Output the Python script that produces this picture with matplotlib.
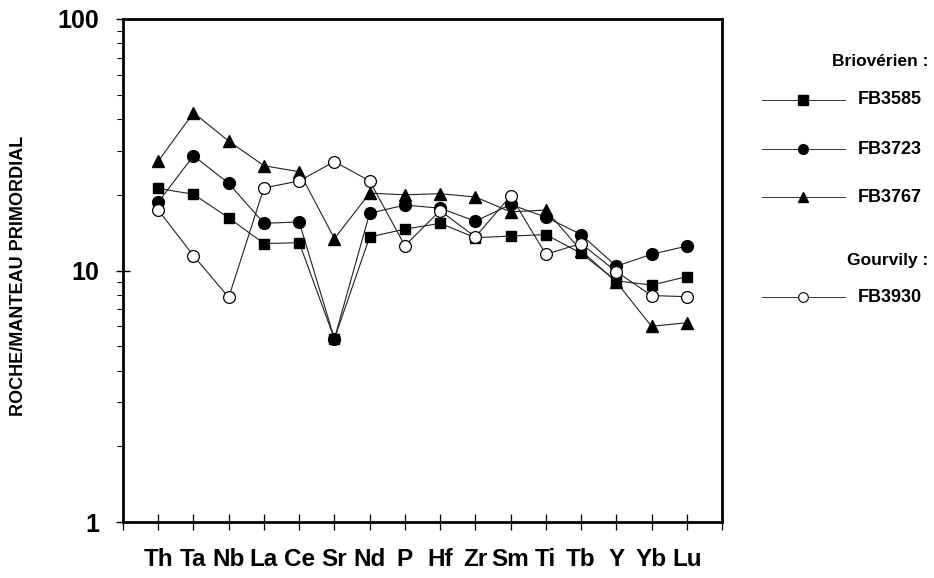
import matplotlib
matplotlib.use("Agg")
import matplotlib.pyplot as plt
from matplotlib.lines import Line2D
from matplotlib.ticker import LogLocator, NullFormatter

plt.rcParams['font.family'] = ['Liberation Sans', 'DejaVu Sans']

# Spider diagram: normalised to primitive mantle
elements = ["Th", "Ta", "Nb", "La", "Ce", "Sr", "Nd", "P",
            "Hf", "Zr", "Sm", "Ti", "Tb", "Y", "Yb", "Lu"]

fb3585 = [21.2, 20.1, 16.2, 12.8, 12.9, 5.35, 13.6, 14.6,
          15.4, 13.5, 13.7, 13.9, 11.7, 9.1, 8.75, 9.45]
fb3723 = [18.7, 28.6, 22.2, 15.4, 15.6, 5.35, 16.9, 18.2,
          17.7, 15.7, 18.3, 16.3, 13.9, 10.4, 11.6, 12.5]
fb3767 = [27.2, 42.4, 32.7, 26.1, 24.7, 13.4, 20.3, 20.0,
          20.2, 19.6, 17.1, 17.4, 12.0, 9.0, 6.0, 6.2]
fb3930 = [17.4, 11.45, 7.82, 21.3, 22.7, 27.1, 22.7, 12.55,
          17.3, 13.6, 19.8, 11.6, 12.8, 9.9, 7.95, 7.87]

ytick_values = [1, 10, 100]
ytick_labels = ["1", "10", "100"]

W, H = 934, 578
fig = plt.figure(figsize=(W / 100, H / 100), dpi=100)
ax = fig.add_axes([123 / W, 1 - 522 / H, (722 - 123) / W, (522 - 19) / H])

x = list(range(1, len(elements) + 1))
line_kw = dict(color="#222222", lw=0.8)

series = [
    (fb3767, dict(marker="^", ms=8.5, mfc="black", mec="black")),
    (fb3723, dict(marker="o", ms=8.5, mfc="black", mec="black")),
    (fb3585, dict(marker="s", ms=7.5, mfc="black", mec="black")),
    (fb3930, dict(marker="o", ms=8.5, mfc="white", mec="black", mew=0.9)),
]
for vals, mk in series:
    ax.plot(x, vals, **line_kw, **mk)

ax.set_yscale("log")
ax.set_ylim(1, 100)
ax.set_xlim(0, len(elements) + 1)

ax.set_yticks(ytick_values, ytick_labels)
ax.yaxis.set_minor_locator(LogLocator(base=10, subs=range(2, 10)))
ax.yaxis.set_minor_formatter(NullFormatter())

ax.set_xticks(range(0, len(elements) + 2),
              [""] + elements + [""])

for sp in ax.spines.values():
    sp.set_linewidth(2.0)

ax.tick_params(axis="x", which="major", direction="inout", length=12,
               width=0.9, pad=13, labelsize=17.5)
ax.tick_params(axis="y", which="major", direction="inout", length=10,
               width=1.0, pad=12, labelsize=18)
ax.tick_params(axis="y", which="minor", direction="out", length=4,
               width=0.8)
for lab in ax.get_xticklabels() + ax.get_yticklabels():
    lab.set_fontweight("bold")

fig.text(19 / W, 1 - 276 / H, "ROCHE/MANTEAU PRIMORDIAL", rotation=90,
         ha="center", va="center", fontsize=13, fontweight="bold")

# Legend drawn in figure pixel coordinates
def fx(px):
    return px / W

def fy(py):
    return 1 - py / H

fig.text(fx(928), fy(62), "Briovérien :", ha="right", va="center",
         fontsize=12.5, fontweight="bold")
fig.text(fx(928), fy(261), "Gourvily :", ha="right", va="center",
         fontsize=12.5, fontweight="bold")

legend_rows = [
    ("FB3585", 100, dict(marker="s", ms=6.5, mfc="black", mec="black")),
    ("FB3723", 149, dict(marker="o", ms=7, mfc="black", mec="black")),
    ("FB3767", 197, dict(marker="^", ms=7.5, mfc="black", mec="black")),
    ("FB3930", 297, dict(marker="o", ms=7, mfc="white", mec="black", mew=0.8)),
]
for name, py, mk in legend_rows:
    fig.add_artist(Line2D([fx(762), fx(845)], [fy(py), fy(py)],
                          color="#333333", lw=0.7,
                          transform=fig.transFigure))
    fig.add_artist(Line2D([fx(803)], [fy(py)], linestyle="none",
                          transform=fig.transFigure, **mk))
    fig.text(fx(858), fy(py), name, ha="left", va="center",
             fontsize=13, fontweight="bold")

fig.savefig("out.png", dpi=100)
